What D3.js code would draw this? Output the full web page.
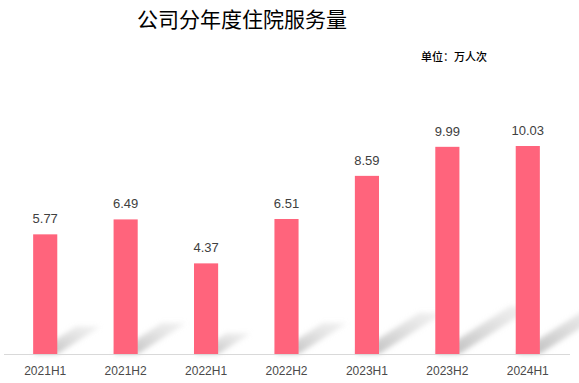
<!DOCTYPE html>
<html>
<head>
<meta charset="utf-8">
<script src="https://cdn.jsdelivr.net/npm/d3@7"></script>
<style>
  body { margin: 0; background: #fff; }
  svg { display: block; }
</style>
</head>
<body>
<script>
var categories = ["2021H1", "2021H2", "2022H1", "2022H2", "2023H1", "2023H2", "2024H1"];
var values = [5.77, 6.49, 4.37, 6.51, 8.59, 9.99, 10.03];
var labels = ["5.77", "6.49", "4.37", "6.51", "8.59", "9.99", "10.03"];

var width = 579,
    height = 383;

var svg = d3.select("body").append("svg")
    .attr("width", width)
    .attr("height", height);

var base = 354;

var x = d3.scaleBand().domain(categories).range([5, 568]).paddingInner(0.7).paddingOuter(0.35);
var y = d3.scaleLinear().domain([0, 10.03]).range([base, 146]);

var defs = svg.append("defs");
defs.append("filter").attr("id", "blur")
    .attr("x", "-20%").attr("y", "-20%").attr("width", "140%").attr("height", "140%")
    .append("feGaussianBlur").attr("stdDeviation", 2.5);

var grad = defs.append("linearGradient").attr("id", "shadowGrad")
    .attr("x1", "0").attr("y1", "1").attr("x2", "1").attr("y2", "0");
grad.append("stop").attr("offset", "0%").attr("stop-color", "#a8a8a8").attr("stop-opacity", 0.8);
grad.append("stop").attr("offset", "100%").attr("stop-color", "#d4d4d4").attr("stop-opacity", 0.3);

// title
svg.append("text")
    .attr("x", 242).attr("y", 27)
    .attr("text-anchor", "middle")
    .style("font-family", "'Noto Sans CJK SC', sans-serif")
    .style("font-size", "21px")
    .style("fill", "#000")
    .text("公司分年度住院服务量");

svg.append("text")
    .attr("x", 487).attr("y", 61)
    .attr("text-anchor", "end")
    .style("font-family", "'Noto Sans CJK SC', sans-serif")
    .style("font-size", "11px")
    .style("font-weight", "500")
    .style("fill", "#000")
    .text("单位：万人次");

// shadows
var chart = svg.append("g");
chart.selectAll(".shadow")
    .data(values)
    .enter()
    .append("polygon")
    .attr("class", "shadow")
    .attr("fill", "url(#shadowGrad)")
    .attr("filter", "url(#blur)")
    .attr("points", function(d, i) {
        var x0 = x(categories[i]), x1 = x0 + x.bandwidth();
        var h = base - y(d);
        var dx = h * 0.36, dy = h * 0.23;
        return [[x0, base], [x1, base], [x1 + dx, base - dy], [x0 + dx, base - dy]].join(" ");
    });

// axis line
chart.append("line")
    .attr("x1", 4).attr("x2", 570)
    .attr("y1", base + 0.5).attr("y2", base + 0.5)
    .attr("stroke", "#d9d9d9")
    .attr("stroke-width", 1);

chart.selectAll(".bar")
    .data(values)
    .enter()
    .append("rect")
    .attr("class", "bar")
    .attr("x", function(d, i) { return x(categories[i]); })
    .attr("y", function(d) { return y(d); })
    .attr("width", x.bandwidth())
    .attr("height", function(d) { return base - y(d); })
    .attr("fill", "#ff647c");

chart.selectAll(".val")
    .data(values)
    .enter()
    .append("text")
    .attr("class", "val")
    .attr("x", function(d, i) { return x(categories[i]) + x.bandwidth() / 2; })
    .attr("y", function(d) { return y(d) - 11; })
    .attr("text-anchor", "middle")
    .style("font-family", "'Liberation Sans', Arial, sans-serif")
    .style("font-size", "13px")
    .style("fill", "#404040")
    .text(function(d, i) { return labels[i]; });

chart.selectAll(".cat")
    .data(categories)
    .enter()
    .append("text")
    .attr("class", "cat")
    .attr("x", function(d) { return x(d) + x.bandwidth() / 2; })
    .attr("y", 375)
    .attr("text-anchor", "middle")
    .style("font-family", "'Liberation Sans', Arial, sans-serif")
    .style("font-size", "12px")
    .style("fill", "#4a4a4a")
    .text(function(d) { return d; });
</script>
</body>
</html>
